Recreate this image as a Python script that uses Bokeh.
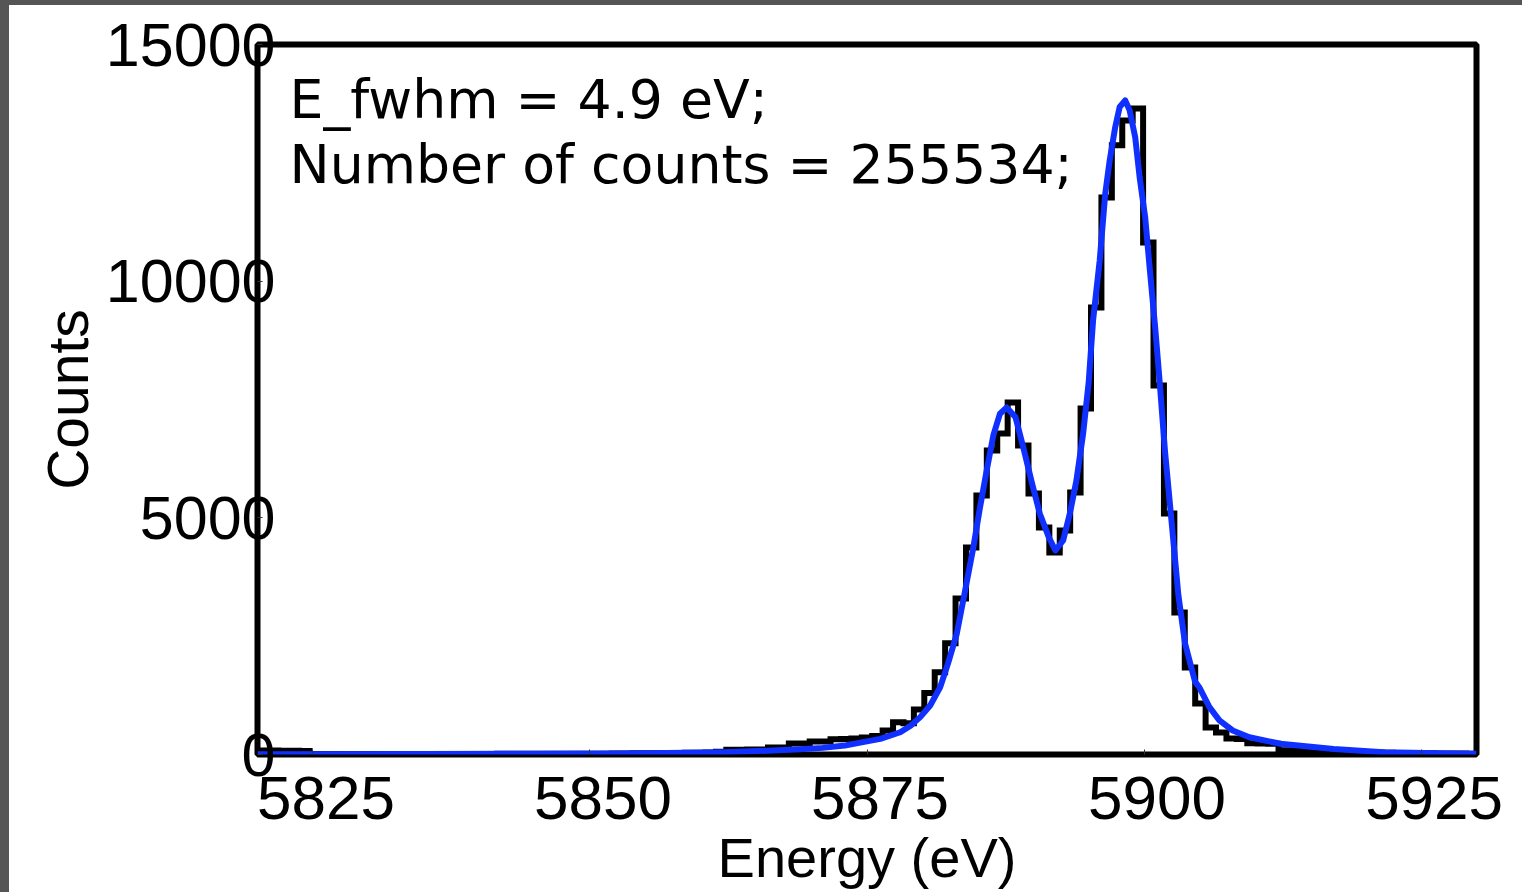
import numpy as np
from bokeh.plotting import figure
from bokeh.models import Range1d, LinearAxis, FixedTicker, Label, Spacer
from bokeh.layouts import column, row
from bokeh.embed import file_html
from bokeh.resources import INLINE

# ---------------- data ----------------
# histogram: 117 bins spanning 5820 .. 5930 eV
bin_edges = np.linspace(5820.0, 5930.0, 118)
hist_counts = [
    85, 85, 80, 80, 75,
    10, 10, 10, 10, 10, 10, 10, 10, 10, 10, 10, 10, 10, 12, 12, 12, 12, 12, 14, 14,
    14, 14, 15, 15, 15, 16, 16, 18, 18,
    20, 22, 25, 25, 28, 30, 32, 35, 38, 40, 60,
    100, 100, 105, 105, 150, 150,
    232, 232, 275, 275, 320, 330, 340, 360, 390, 507, 680, 660,
    950, 1300, 1740, 2350, 3296, 4374, 5473, 6424, 6783, 7438, 6529, 5515, 4797, 4268,
    4733, 5536, 7311, 9445, 11770, 12870, 13397, 13650, 10819, 7797, 5092, 3000, 1838, 1078,
    570, 465, 340, 330, 240, 235, 225, 90, 85,
    80, 75, 70, 60, 55, 50, 45, 40, 35, 30, 30, 25, 25, 20, 20, 20, 15,
]

# fitted curve
fit_energy = [5820.0, 5835.0, 5845.0, 5852.0, 5857.0, 5862.0, 5866.0, 5869.0, 5871.0, 5873.0,
              5874.4, 5876.2, 5878.0, 5879.0, 5879.8, 5880.7, 5881.6, 5882.3, 5883.1, 5883.8,
              5884.6, 5885.2, 5885.8, 5886.4, 5887.0, 5887.6, 5888.4, 5889.1, 5889.9, 5890.6,
              5891.4, 5892.0, 5892.7, 5893.3, 5893.9, 5894.5, 5895.0, 5895.4, 5896.0, 5896.5,
              5896.9, 5897.4, 5897.8, 5898.3, 5898.7, 5899.2, 5899.6, 5900.1, 5900.5, 5901.0,
              5901.4, 5901.9, 5902.5, 5903.1, 5903.7, 5904.6, 5905.0, 5905.9, 5906.8, 5908.0,
              5909.5, 5912.3, 5917.1, 5921.6, 5926.7, 5930.0]
fit_counts = [5, 10, 15, 20, 30, 50, 80, 110, 140, 190,
              250, 330, 470, 620, 790, 1035, 1420, 1915, 2550, 3395,
              4380, 5225, 6000, 6740, 7200, 7330, 7127, 6493, 5720, 5086,
              4592, 4310, 4522, 5086, 5790, 6776, 7850, 9170, 10440, 11850,
              12550, 13255, 13680, 13820, 13610, 13045, 12200, 11353, 10297, 9030,
              7900, 6380, 4880, 3360, 2345, 1540, 1415, 1000, 720, 507,
              365, 226, 116, 50, 25, 15]

x_ticks = [5825, 5850, 5875, 5900, 5925]
y_ticks = [0, 5000, 10000, 15000]
x_label = "Energy (eV)"
y_label = "Counts"
info_lines = ["E_fwhm = 4.9 eV;", "Number of counts = 255534;"]

# ---------------- figure ----------------
X0, X1 = 5820.0, 5930.0
Y0, Y1 = 0.0, 15000.0
FRAME_W, FRAME_H = 1219, 710
px_per_ev = FRAME_W / (X1 - X0)
cnt_per_px = (Y1 - Y0) / FRAME_H

p = figure(width=1513, height=887,
           x_range=Range1d(X0, X1), y_range=Range1d(Y0, Y1),
           x_axis_location=None, y_axis_location=None,
           output_backend="svg", toolbar_location=None,
           min_border_left=248, min_border_right=46,
           min_border_top=39, min_border_bottom=138)
p.grid.visible = False
p.background_fill_color = "white"
p.border_fill_color = "white"
p.outline_line_color = "black"
p.outline_line_width = 6

TICK_FONT = "Liberation Sans"

# y axis
yax = LinearAxis(ticker=FixedTicker(ticks=y_ticks))
yax.axis_line_color = None
yax.major_tick_in = 5
yax.major_tick_out = 0
yax.major_tick_line_color = "#333333"
yax.major_tick_line_width = 1
yax.minor_tick_line_color = None
yax.major_label_text_font = TICK_FONT
yax.major_label_text_font_size = "61px"
yax.major_label_text_color = "black"
yax.major_label_standoff = -18
yax.axis_label = y_label
yax.axis_label_text_font = TICK_FONT
yax.axis_label_text_font_size = "57px"
yax.axis_label_text_font_style = "normal"
yax.axis_label_text_color = "black"
yax.axis_label_standoff = 3
p.add_layout(yax, "left")

# x axis: tick marks at the data positions
xax = LinearAxis(ticker=FixedTicker(ticks=x_ticks))
xax.axis_line_color = None
xax.major_tick_in = 5
xax.major_tick_out = 0
xax.major_tick_line_color = "#333333"
xax.major_tick_line_width = 1
xax.minor_tick_line_color = None
xax.major_label_overrides = {t: "" for t in x_ticks}
xax.major_label_text_font_size = "1px"
xax.major_label_standoff = 0
p.add_layout(xax, "below")

# x axis labels (drawn slightly to the right, as in the original)
shift = 13 / px_per_ev
p.extra_x_ranges = {"xlabels": Range1d(X0 - shift, X1 - shift)}
xlab = LinearAxis(ticker=FixedTicker(ticks=x_ticks), x_range_name="xlabels")
xlab.axis_line_color = None
xlab.major_tick_in = 0
xlab.major_tick_out = 0
xlab.major_tick_line_color = None
xlab.minor_tick_line_color = None
xlab.major_label_text_font = TICK_FONT
xlab.major_label_text_font_size = "62px"
xlab.major_label_text_color = "black"
xlab.major_label_standoff = 22
xlab.axis_label = x_label
xlab.axis_label_text_font = TICK_FONT
xlab.axis_label_text_font_size = "56px"
xlab.axis_label_text_font_style = "normal"
xlab.axis_label_text_color = "black"
xlab.axis_label_standoff = 4
p.add_layout(xlab, "below")

# histogram (stairs) and fit
stairs_x = list(bin_edges)
stairs_y = list(hist_counts) + [hist_counts[-1]]
p.step(stairs_x, stairs_y, mode="after", line_color="black", line_width=6,
       line_join="miter")
p.line(fit_energy, fit_counts, line_color="#1030ff", line_width=6, line_join="round")

# annotation text
INFO_FONT = "DejaVu Sans"
text_x = X0 + 32 / px_per_ev
for i, line in enumerate(info_lines):
    baseline_px = 55 + 65 * i
    p.add_layout(Label(x=text_x, y=Y1 - baseline_px * cnt_per_px, text=line,
                       text_font=INFO_FONT, text_font_size="53.7px",
                       text_color="black", text_baseline="alphabetic",
                       text_align="left"))

# window frame of the original screenshot
top_bar = Spacer(width=1522, height=5, styles={"background-color": "#555555"})
left_bar = Spacer(width=9, height=887, styles={"background-color": "#555555"})
layout = column(top_bar, row(left_bar, p, spacing=0), spacing=0)

open("out.html", "w").write(file_html(layout, INLINE))
